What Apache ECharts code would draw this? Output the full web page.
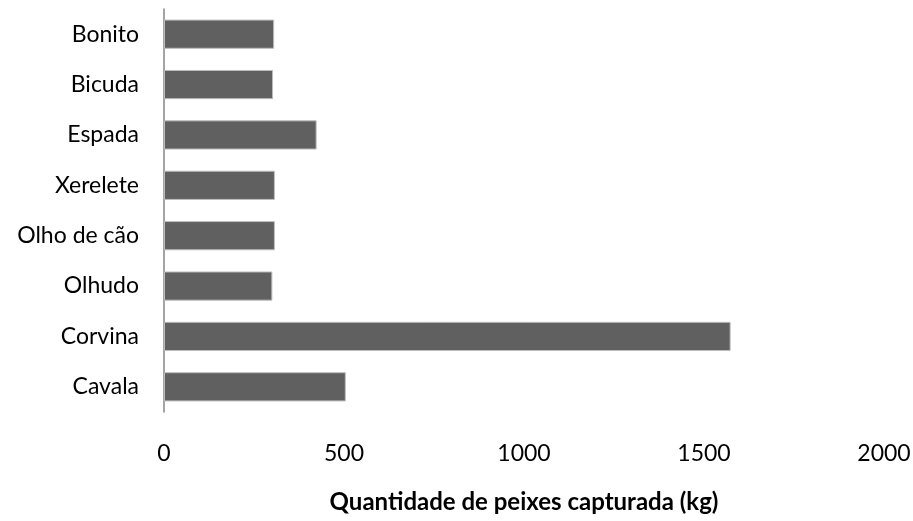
<!DOCTYPE html>
<html>
<head>
<meta charset="utf-8">
<script src="https://cdn.jsdelivr.net/npm/echarts@6/dist/echarts.min.js"></script>
<style>
  html, body { margin: 0; padding: 0; background: #ffffff; }
  #chart { width: 913px; height: 521px; }
</style>
</head>
<body>
<div id="chart"></div>
<script>
// Fish species, listed bottom to top
const categories = ['Cavala', 'Corvina', 'Olhudo', 'Olho de cão', 'Xerelete', 'Espada', 'Bicuda', 'Bonito'];
// Catch per species in kg
const catchKg = [505, 1574, 301, 308, 308, 424, 303, 306];
const xTicks = [0, 500, 1000, 1500, 2000];

const fontFamily = 'Lato, "Open Sans", sans-serif';

const chart = echarts.init(document.getElementById('chart'), null, { renderer: 'canvas' });
chart.setOption({
  animation: false,
  backgroundColor: '#ffffff',
  grid: { left: 164, right: 29, top: 9, bottom: 109, containLabel: false, outerBoundsMode: 'none' },
  xAxis: {
    type: 'value',
    min: xTicks[0],
    max: xTicks[xTicks.length - 1],
    interval: 500,
    name: 'Quantidade de peixes capturada (kg)',
    nameLocation: 'middle',
    nameGap: 78,
    nameTextStyle: { fontFamily, fontSize: 24, fontWeight: 'bold', color: '#000' },
    axisLine: { show: false },
    axisTick: { show: false },
    splitLine: { show: false },
    axisLabel: { fontFamily, fontSize: 23, color: '#000', margin: 30, formatter: v => String(v) }
  },
  yAxis: {
    type: 'category',
    data: categories,
    axisLine: { show: true, lineStyle: { color: '#868686', width: 1.5 } },
    axisTick: { show: false },
    splitLine: { show: false },
    axisLabel: { fontFamily, fontSize: 23, color: '#000', margin: 25 }
  },
  series: [{
    type: 'bar',
    data: catchKg,
    barCategoryGap: '42%',
    itemStyle: { color: '#606060', borderColor: '#bdbdbd', borderWidth: 1 }
  }]
});
</script>
</body>
</html>
